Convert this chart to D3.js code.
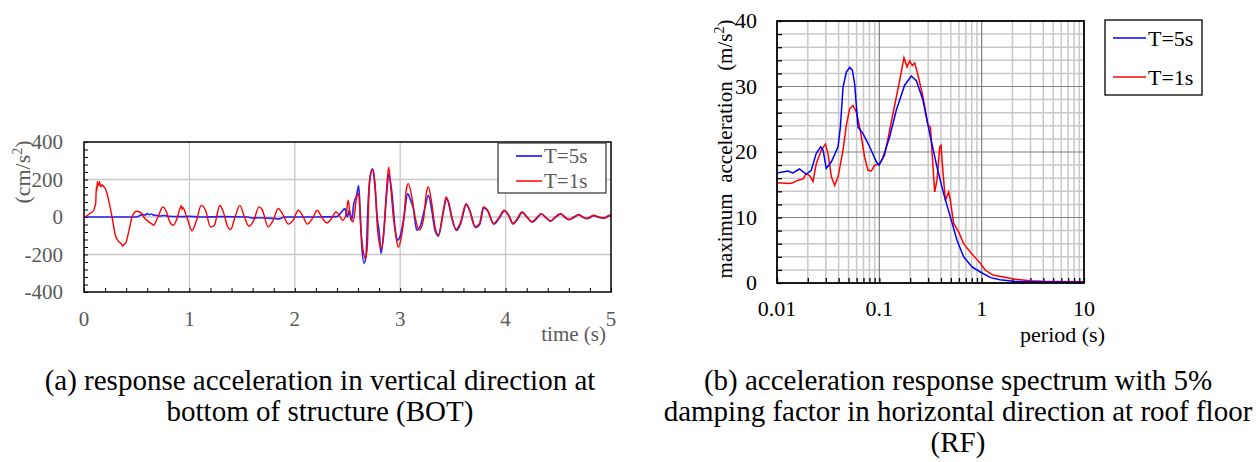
<!DOCTYPE html>
<html>
<head>
<meta charset="utf-8">
<script src="https://cdn.jsdelivr.net/npm/d3@7"></script>
<style>
  body { margin: 0; background: #fff; }
  svg text { font-family: "Liberation Serif", "Times New Roman", serif; white-space: pre; }
</style>
</head>
<body>
<div id="chart"></div>
<script>
// ---- data ----
// (a) vertical acceleration at BOT, [time s, cm/s2]
var botT5 = [[0,0],[0.5,0],[0.53,8],[0.56,14],[0.58,10],[0.6,18],[0.62,12],[0.64,16],[0.66,10],[0.7,8],[0.72,5],[0.76,8],[0.8,4],[0.9,2],[1.0,3],[1.1,0],[1.3,2],[1.55,0],[1.6,-6],[1.65,-4],[1.8,-8],[1.85,-10],[1.9,0],[2.2,0],[2.4,2],[2.444,27],[2.475,45],[2.498,0],[2.516,36],[2.54,-17],[2.56,71],[2.587,116],[2.606,168],[2.618,54],[2.634,-140],[2.656,-246],[2.675,-211],[2.697,89],[2.72,230],[2.739,257],[2.761,160],[2.783,-8],[2.802,-88],[2.818,-194],[2.84,-106],[2.872,125],[2.891,230],[2.92,134],[2.95,-52],[2.973,-123],[2.998,-106],[3.036,0],[3.071,125],[3.093,98],[3.125,45],[3.157,-70],[3.188,-52],[3.236,54],[3.267,116],[3.3,36],[3.33,-70],[3.362,-102],[3.41,30],[3.44,98],[3.46,75],[3.49,-5],[3.535,-72],[3.57,-40],[3.628,66],[3.66,35],[3.715,-56],[3.755,-38],[3.792,50],[3.83,34],[3.888,-38],[3.935,-10],[3.99,33],[4.03,8],[4.072,-37],[4.115,-10],[4.157,25],[4.205,-2],[4.252,-28],[4.3,-5],[4.338,16],[4.395,-10],[4.427,-22],[4.473,-2],[4.523,16],[4.57,-5],[4.603,-14],[4.648,-2],[4.695,11],[4.743,-4],[4.773,-9],[4.838,7],[4.883,-1],[4.933,-6],[4.99,7],[5,6]];
var botT1 = [[0,0],[0.03,8],[0.06,20],[0.092,36],[0.105,60],[0.111,71],[0.117,160],[0.122,140],[0.127,190],[0.132,165],[0.137,178],[0.142,170],[0.146,190],[0.152,175],[0.161,160],[0.17,172],[0.18,168],[0.19,160],[0.203,151],[0.234,89],[0.266,0],[0.297,-96],[0.33,-132],[0.35,-140],[0.37,-155],[0.38,-145],[0.393,-141],[0.424,-79],[0.456,0],[0.48,25],[0.503,31],[0.541,22],[0.567,0],[0.614,-26],[0.64,-35],[0.662,-44],[0.685,-20],[0.709,9],[0.735,45],[0.75,54],[0.782,27],[0.814,-26],[0.845,-44],[0.883,-8],[0.91,45],[0.925,62],[0.93,40],[0.94,50],[0.963,18],[0.985,-17],[1.026,-74],[1.05,-45],[1.073,-8],[1.111,62],[1.153,36],[1.2,-53],[1.238,-44],[1.265,20],[1.289,62],[1.3,55],[1.327,18],[1.358,-44],[1.39,-67],[1.438,9],[1.479,62],[1.517,9],[1.564,-49],[1.612,-17],[1.659,54],[1.69,40],[1.747,-52],[1.795,-17],[1.843,45],[1.89,10],[1.938,-38],[1.985,-17],[2.033,36],[2.08,0],[2.118,-38],[2.175,0],[2.213,36],[2.254,0],[2.302,-31],[2.349,-8],[2.39,27],[2.422,10],[2.453,-17],[2.485,10],[2.507,89],[2.529,-8],[2.555,-26],[2.587,107],[2.606,125],[2.625,-52],[2.65,-185],[2.669,-220],[2.688,-158],[2.707,178],[2.729,248],[2.745,248],[2.761,178],[2.783,-52],[2.802,-140],[2.824,-167],[2.846,-70],[2.872,160],[2.891,266],[2.91,160],[2.935,0],[2.96,-106],[2.982,-162],[3.005,-123],[3.03,-35],[3.062,160],[3.077,178],[3.11,107],[3.141,0],[3.182,-70],[3.22,-17],[3.252,142],[3.267,160],[3.3,71],[3.33,-52],[3.362,-96],[3.41,36],[3.435,107],[3.457,80],[3.489,0],[3.53,-66],[3.568,-35],[3.625,71],[3.657,36],[3.71,-52],[3.752,-35],[3.79,54],[3.828,36],[3.885,-35],[3.932,-8],[3.986,36],[4.027,9],[4.069,-35],[4.112,-8],[4.154,27],[4.202,0],[4.249,-26],[4.297,-3],[4.335,18],[4.392,-8],[4.424,-21],[4.47,0],[4.52,18],[4.567,-3],[4.6,-13],[4.645,0],[4.692,13],[4.74,-3],[4.77,-8],[4.835,9],[4.88,0],[4.93,-5],[4.99,9],[5,8]];

// (b) acceleration response spectrum at RF, [period s, m/s2]
var specT5 = [[0.01,16.8],[0.0128,17.1],[0.0143,16.8],[0.0166,17.4],[0.0193,16.6],[0.0216,17.2],[0.0242,19.8],[0.0267,20.8],[0.0282,20.3],[0.0303,17.5],[0.034,18.5],[0.0395,20.8],[0.0416,23.8],[0.0442,29.9],[0.0476,32.2],[0.0513,32.9],[0.0545,32.5],[0.0574,30.4],[0.0619,23.8],[0.0693,22.8],[0.0804,20.8],[0.0935,18.5],[0.0993,18.0],[0.1087,19.2],[0.126,22.3],[0.1466,26.4],[0.1767,30.2],[0.2055,31.6],[0.23,30.9],[0.267,27.9],[0.3155,22.3],[0.366,17.7],[0.4257,13.6],[0.494,10.1],[0.575,6.5],[0.667,4.0],[0.805,2.44],[0.971,1.68],[1.22,0.82],[1.51,0.5],[2.04,0.26],[3,0.18],[5,0.15],[10,0.12]];
var specT1 = [[0.01,15.3],[0.0133,15.2],[0.0143,15.3],[0.016,15.7],[0.018,15.9],[0.0193,16.7],[0.0208,16.4],[0.0225,15.5],[0.0242,18.2],[0.0271,20.3],[0.0297,21.2],[0.0315,19.75],[0.034,16.2],[0.0366,14.9],[0.0395,16.2],[0.0442,20.3],[0.0476,24.1],[0.0513,26.6],[0.0553,27.1],[0.0597,26.1],[0.0652,23.3],[0.0718,19.2],[0.0775,17.2],[0.0836,17.1],[0.09,18.0],[0.1007,18.2],[0.1127,19.5],[0.126,23.3],[0.141,27.1],[0.158,30.9],[0.174,34.4],[0.1865,33.0],[0.198,33.9],[0.21,33.2],[0.2215,33.6],[0.239,31.7],[0.267,28.4],[0.299,24.1],[0.3155,23.8],[0.3396,16.2],[0.3475,13.9],[0.366,15.7],[0.389,20.8],[0.401,21.0],[0.41,18.7],[0.442,12.6],[0.476,13.9],[0.494,12.6],[0.532,9.1],[0.596,7.8],[0.667,6.0],[0.776,4.7],[0.971,3.0],[1.087,1.94],[1.31,1.18],[1.64,0.92],[2.05,0.61],[2.99,0.36],[3.9,0.26],[5,0.22],[10,0.2]];

var seriesNames = ["T=5s", "T=1s"];
var seriesColors = ["#0000ff", "#ff0000"];

var timeTicks = [0, 1, 2, 3, 4, 5];
var accTicks = [400, 200, 0, -200, -400];
var periodTicks = [0.01, 0.1, 1, 10];
var periodLabels = ["0.01", "0.1", "1", "10"];
var specTicks = [0, 10, 20, 30, 40];

var captionA = ["(a) response acceleration in vertical direction at", "bottom of structure (BOT)"];
var captionB = ["(b) acceleration response spectrum with 5%", "damping factor in horizontal direction at roof floor", "(RF)"];

var svg = d3.select("#chart").append("svg")
    .attr("width", 1260)
    .attr("height", 462);

var gridLight = "#c8c8c8", gridDark = "#808080", grayText = "#595959";

// ================= (a) time history =================
var a = {left: 84, right: 611, top: 142, bottom: 292};
var xa = d3.scaleLinear().domain([0, 5]).range([a.left, a.right]);
var ya = d3.scaleLinear().domain([-400, 400]).range([a.bottom, a.top]);

var ga = svg.append("g");

// gridlines
ga.selectAll(".gx").data([1, 2, 3, 4]).enter().append("line")
    .attr("x1", function(d) { return xa(d); }).attr("x2", function(d) { return xa(d); })
    .attr("y1", a.top).attr("y2", a.bottom)
    .style("stroke", gridLight).style("stroke-width", 1.3);
ga.selectAll(".gy").data([200, 0, -200]).enter().append("line")
    .attr("x1", a.left).attr("x2", a.right)
    .attr("y1", function(d) { return ya(d); }).attr("y2", function(d) { return ya(d); })
    .style("stroke", gridLight).style("stroke-width", 1.3);

// axes with inward ticks
ga.append("g")
    .attr("transform", "translate(0," + a.bottom + ")")
    .call(d3.axisTop(xa).tickValues(d3.range(0, 5.001, 0.2)).tickSize(4).tickFormat(""))
    .call(function(g) { g.select(".domain").remove(); g.selectAll("line").style("stroke", "#000"); });
ga.append("g")
    .attr("transform", "translate(" + a.left + ",0)")
    .call(d3.axisRight(ya).tickValues(d3.range(-400, 401, 40)).tickSize(4).tickFormat(""))
    .call(function(g) { g.select(".domain").remove(); g.selectAll("line").style("stroke", "#000"); });

var lineA = d3.line()
    .curve(d3.curveMonotoneX)
    .x(function(d) { return xa(d[0]); })
    .y(function(d) { return ya(d[1]); });

ga.append("path").datum(botT5).attr("d", lineA)
    .style("fill", "none").style("stroke", seriesColors[0]).style("stroke-width", 1.7).style("opacity", 0.85);
ga.append("path").datum(botT1).attr("d", lineA)
    .style("fill", "none").style("stroke", seriesColors[1]).style("stroke-width", 1.4);

// frame
ga.append("rect")
    .attr("x", a.left).attr("y", a.top)
    .attr("width", a.right - a.left).attr("height", a.bottom - a.top)
    .style("fill", "none").style("stroke", "#000").style("stroke-width", 1.5);

// tick labels
ga.selectAll(".tx").data(timeTicks).enter().append("text")
    .attr("x", function(d) { return xa(d); }).attr("y", 326)
    .attr("text-anchor", "middle")
    .style("font-size", "21px").style("fill", grayText)
    .text(function(d) { return d; });
ga.selectAll(".ty").data(accTicks).enter().append("text")
    .attr("x", 63).attr("y", function(d) { return ya(d) + 7; })
    .attr("text-anchor", "end")
    .style("font-size", "21px").style("fill", grayText)
    .text(function(d) { return d; });

// axis titles
var tA = ga.append("text")
    .attr("transform", "translate(30,172) rotate(-90)")
    .attr("text-anchor", "middle")
    .style("font-size", "22px").style("fill", grayText);
tA.append("tspan").text("(cm/s");
tA.append("tspan").attr("dy", -8).style("font-size", "14px").text("2");
tA.append("tspan").attr("dy", 8).text(")");

ga.append("text")
    .attr("x", 606).attr("y", 341)
    .attr("text-anchor", "end")
    .style("font-size", "21px").style("fill", grayText)
    .text("time (s)");

// legend
var la = ga.append("g");
la.append("rect").attr("x", 498).attr("y", 143).attr("width", 108).attr("height", 50)
    .style("fill", "#fff").style("stroke", "#404040").style("stroke-width", 1.3);
seriesNames.forEach(function(n, i) {
    var yy = 156 + i * 25;
    la.append("line").attr("x1", 516).attr("x2", 542).attr("y1", yy).attr("y2", yy)
        .style("stroke", seriesColors[i]).style("stroke-width", 1.5);
    la.append("text").attr("x", 544).attr("y", yy + 7)
        .style("font-size", "21px").style("fill", grayText).text(n);
});

// ================= (b) spectrum =================
var b = {left: 777, right: 1084, top: 21, bottom: 283};
var xb = d3.scaleLog().domain([0.01, 10]).range([b.left, b.right]);
var yb = d3.scaleLinear().domain([0, 40]).range([b.bottom, b.top]);

var gb = svg.append("g");

var logGrid = [];
[0.01, 0.1, 1].forEach(function(dec) {
    for (var k = 1; k <= 9; k++) logGrid.push(+(k * dec).toPrecision(3));
});
logGrid.push(10);

gb.selectAll(".gxl").data(logGrid.filter(function(d) { return [0.01, 0.1, 1, 10].indexOf(d) < 0; }))
  .enter().append("line")
    .attr("x1", function(d) { return xb(d); }).attr("x2", function(d) { return xb(d); })
    .attr("y1", b.top).attr("y2", b.bottom)
    .style("stroke", gridLight).style("stroke-width", 1.5);
gb.selectAll(".gyl").data(d3.range(2, 40, 2).filter(function(d) { return d % 10 !== 0; }))
  .enter().append("line")
    .attr("x1", b.left).attr("x2", b.right)
    .attr("y1", function(d) { return yb(d); }).attr("y2", function(d) { return yb(d); })
    .style("stroke", gridLight).style("stroke-width", 1.5);
gb.selectAll(".gxd").data([0.1, 1]).enter().append("line")
    .attr("x1", function(d) { return xb(d); }).attr("x2", function(d) { return xb(d); })
    .attr("y1", b.top).attr("y2", b.bottom)
    .style("stroke", gridDark).style("stroke-width", 1.2);
gb.selectAll(".gyd").data([10, 20, 30]).enter().append("line")
    .attr("x1", b.left).attr("x2", b.right)
    .attr("y1", function(d) { return yb(d); }).attr("y2", function(d) { return yb(d); })
    .style("stroke", gridDark).style("stroke-width", 1.2);

gb.append("g")
    .attr("transform", "translate(0," + b.bottom + ")")
    .call(d3.axisTop(xb).tickValues(logGrid).tickSize(5).tickFormat(""))
    .call(function(g) { g.select(".domain").remove(); g.selectAll("line").style("stroke", "#000").style("stroke-width", 1.3); });
gb.append("g")
    .attr("transform", "translate(" + b.left + ",0)")
    .call(d3.axisRight(yb).tickValues(d3.range(0, 41, 2)).tickSize(5).tickFormat(""))
    .call(function(g) { g.select(".domain").remove(); g.selectAll("line").style("stroke", "#000").style("stroke-width", 1.3); });

var lineB = d3.line()
    .x(function(d) { return xb(d[0]); })
    .y(function(d) { return yb(d[1]); });

gb.append("path").datum(specT1).attr("d", lineB)
    .style("fill", "none").style("stroke", seriesColors[1]).style("stroke-width", 1.5);
gb.append("path").datum(specT5).attr("d", lineB)
    .style("fill", "none").style("stroke", seriesColors[0]).style("stroke-width", 1.5);

gb.append("rect")
    .attr("x", b.left).attr("y", b.top)
    .attr("width", b.right - b.left).attr("height", b.bottom - b.top)
    .style("fill", "none").style("stroke", "#000").style("stroke-width", 1.8);

gb.selectAll(".tx").data(periodTicks).enter().append("text")
    .attr("x", function(d) { return xb(d); }).attr("y", 316)
    .attr("text-anchor", "middle")
    .style("font-size", "22px").style("fill", "#000")
    .text(function(d, i) { return periodLabels[i]; });
gb.selectAll(".ty").data(specTicks).enter().append("text")
    .attr("x", 757).attr("y", function(d) { return yb(d) + 7; })
    .attr("text-anchor", "end")
    .style("font-size", "22px").style("fill", "#000")
    .text(function(d) { return d; });

var tB = gb.append("text")
    .attr("transform", "translate(732,149) rotate(-90)")
    .attr("text-anchor", "middle")
    .style("font-size", "21px").style("fill", "#000");
tB.append("tspan").text("maximum  acceleration  (m/s");
tB.append("tspan").attr("dy", -8).style("font-size", "14px").text("2");
tB.append("tspan").attr("dy", 8).text(")");

gb.append("text")
    .attr("x", 1105).attr("y", 342)
    .attr("text-anchor", "end")
    .style("font-size", "22px").style("fill", "#000")
    .text("period (s)");

var lb = gb.append("g");
lb.append("rect").attr("x", 1105).attr("y", 20).attr("width", 97).attr("height", 75)
    .style("fill", "#fff").style("stroke", "#000").style("stroke-width", 1.3);
seriesNames.forEach(function(n, i) {
    var yy = 38 + i * 39;
    lb.append("line").attr("x1", 1113).attr("x2", 1146).attr("y1", yy).attr("y2", yy)
        .style("stroke", seriesColors[i]).style("stroke-width", 1.5);
    lb.append("text").attr("x", 1148).attr("y", yy + 8)
        .style("font-size", "22px").style("fill", "#000").text(n);
});

// ================= captions =================
svg.selectAll(".capA").data(captionA).enter().append("text")
    .attr("x", 320).attr("y", function(d, i) { return 390 + i * 31; })
    .attr("text-anchor", "middle")
    .style("font-size", "29px").style("fill", "#000")
    .text(function(d) { return d; });
svg.selectAll(".capB").data(captionB).enter().append("text")
    .attr("x", 958).attr("y", function(d, i) { return 390 + i * 31; })
    .attr("text-anchor", "middle")
    .style("font-size", "29px").style("fill", "#000")
    .text(function(d) { return d; });
</script>
</body>
</html>
